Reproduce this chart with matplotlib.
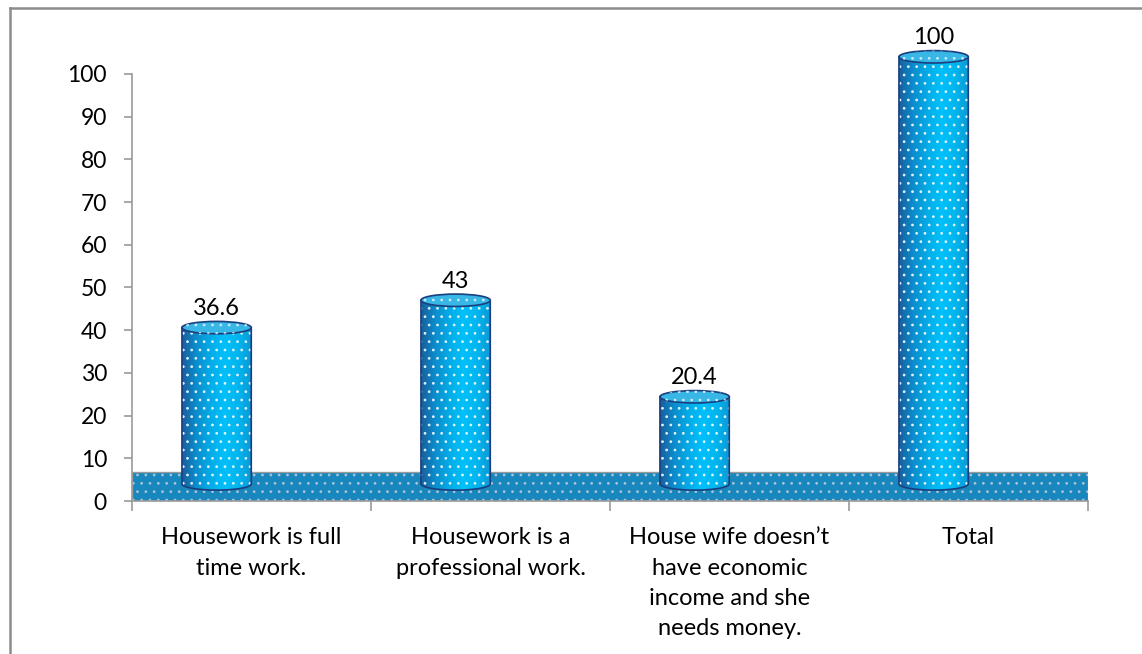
import numpy as np
import matplotlib.pyplot as plt
from matplotlib.patches import Ellipse, PathPatch, Rectangle
from matplotlib.path import Path
from matplotlib.lines import Line2D
from matplotlib.colors import LinearSegmentedColormap

categories = ["Housework is full\ntime work.",
              "Housework is a\nprofessional work.",
              "House wife doesn\u2019t\nhave economic\nincome and she\nneeds money.",
              "Total"]
values = [36.6, 43, 20.4, 100]
value_labels = ["36.6", "43", "20.4", "100"]
yticks = list(range(0, 101, 10))

plt.rcParams['font.family'] = ['Lato', 'DejaVu Sans']
plt.rcParams['hatch.linewidth'] = 0.75

fig = plt.figure(figsize=(11.42, 6.54), dpi=100)
ax = fig.add_axes([132 / 1142, 1 - 501 / 654, (1088 - 132) / 1142, (501 - 44) / 654])

# 3D look parameters
shift = -0.146   # cylinders sit left of category centre
w = 0.29         # cylinder width (category units)
lift = 4.0       # depth offset of the cylinders
eh = 2.9         # ellipse height (data units)
floor_top = 6.8

edge = '#1b3f7e'
body_cmap = LinearSegmentedColormap.from_list(
    'cyl', ['#1a5e9c', '#0c8ccc', '#05abe6', '#00c0fa', '#02b6ef', '#0a98d4'])

# floor band
ax.add_patch(Rectangle((-0.5, 0), 4, floor_top, fc='#1787bd', ec='#9a9a9a', lw=1, zorder=1))
ax.add_patch(Rectangle((-0.5, 0), 4, floor_top, fc='none', ec='#a9c4d6', lw=0, hatch='..', zorder=1.1))


def body_path(cx, bottom, top):
    t = np.linspace(np.pi, 2 * np.pi, 60)
    arc = np.column_stack([cx + w / 2 * np.cos(t), bottom + eh / 2 * np.sin(t)])
    verts = np.vstack([[cx - w / 2, top], arc, [cx + w / 2, top], [cx - w / 2, top]])
    codes = [Path.MOVETO] + [Path.LINETO] * (len(verts) - 2) + [Path.CLOSEPOLY]
    return Path(verts, codes)


grad = np.linspace(0, 1, 256).reshape(1, -1)
for i, v in enumerate(values):
    cx = i + shift
    bottom = lift
    top = v + lift
    pth = body_path(cx, bottom, top)
    outline = PathPatch(pth, fc='none', ec=edge, lw=1.2, zorder=3)
    ax.add_patch(outline)
    img = ax.imshow(grad, cmap=body_cmap, extent=[cx - w / 2, cx + w / 2, bottom - eh / 2, top],
                    aspect='auto', zorder=2, interpolation='bilinear')
    img.set_clip_path(outline)
    ax.add_patch(PathPatch(pth, fc='none', ec='#dff3ff', lw=0, hatch='..', zorder=2.5))
    # top cap
    ax.add_patch(Ellipse((cx, top), w, eh, fc='#38b6e6', ec=edge, lw=1.2, zorder=4))
    ax.add_patch(Ellipse((cx, top), w, eh, fc='none', ec='#c8ecff', lw=0, hatch='..', zorder=4.5))
    ax.text(cx, top + eh / 2 + 1.5, value_labels[i], ha='center', va='baseline', fontsize=17)

ax.set_xlim(-0.5, 3.5)
ax.set_ylim(0, 107)
ax.set_yticks(yticks)
ax.set_xticks(range(len(categories)))
ax.set_xticklabels(categories, fontsize=17, linespacing=1.55, va='top')
ax.set_xticks(np.arange(-0.5, 4, 1), minor=True)
ax.tick_params(axis='x', which='major', length=0, pad=19)
ax.tick_params(axis='x', which='minor', length=7, color='#9a9a9a', width=1.2)
ax.tick_params(axis='y', length=6, color='#9a9a9a', width=1.2, pad=12, labelsize=16.5)

for s in ['top', 'right']:
    ax.spines[s].set_visible(False)
for s in ['left', 'bottom']:
    ax.spines[s].set_color('#9a9a9a')
    ax.spines[s].set_linewidth(1.2)
ax.spines['left'].set_bounds(0, 100)

# outer chart border (top and left only visible in the crop)
fig.add_artist(Line2D([10 / 1142, 1], [1 - 8 / 654] * 2, transform=fig.transFigure, color='#8c8c8c', lw=1.8))
fig.add_artist(Line2D([10 / 1142] * 2, [0, 1 - 8 / 654], transform=fig.transFigure, color='#8c8c8c', lw=1.8))

fig.savefig('out.png', dpi=100)
